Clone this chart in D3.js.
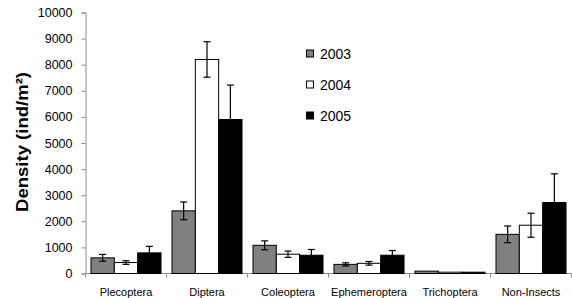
<!DOCTYPE html>
<html><head><meta charset="utf-8">
<script src="https://cdn.jsdelivr.net/npm/d3@7"></script>
<style>body{margin:0;background:#fff}svg{display:block}text{font-family:"Liberation Sans",Arial,sans-serif}</style>
</head><body><svg id="c" width="572" height="298"></svg>
<script>
const categories = ["Plecoptera","Diptera","Coleoptera","Ephemeroptera","Trichoptera","Non-Insects"];
const years = ["2003","2004","2005"];
const values2003 = [600, 2400, 1080, 350, 90, 1500];
const values2004 = [420, 8200, 740, 390, 50, 1850];
const values2005 = [790, 5900, 700, 700, 50, 2720];
const errors2003 = [130, 340, 170, 60, 0, 320];
const errors2004 = [70, 680, 120, 70, 0, 460];
const errors2005 = [250, 1320, 220, 180, 0, 1100];
const yTicks = [0,1000,2000,3000,4000,5000,6000,7000,8000,9000,10000];
const colors = ["#808080","#ffffff","#000000"];

(function(){
const svg = d3.select("#c");
const mLeft = 85.5, mRight = 571.5, mTop = 12.5, mBottom = 273.5;
const x0 = d3.scaleBand().domain(categories).range([mLeft, mRight]).paddingInner(0).paddingOuter(0);
const x1 = d3.scaleBand().domain(years).range([0, x0.bandwidth()]).paddingInner(0).paddingOuter(0.235);
const y = d3.scaleLinear().domain([0, 10000]).range([mBottom, mTop]);

const series = [values2003, values2004, values2005];
const errs = [errors2003, errors2004, errors2005];

// y axis
const yAxis = svg.append("g").attr("transform", `translate(${mLeft},0)`)
  .call(d3.axisLeft(y).tickValues(yTicks).tickSize(4).tickPadding(9).tickFormat(d3.format("d")));
yAxis.selectAll("path,line").attr("stroke", "#8c8c8c");
yAxis.selectAll("text").attr("font-size", "12.5px").attr("fill", "#000").attr("font-family", '"Liberation Sans",Arial,sans-serif');

// x axis
const xAxis = svg.append("g").attr("transform", `translate(0,${mBottom})`);
xAxis.append("line").attr("x1", mLeft).attr("x2", mRight).attr("stroke", "#8c8c8c");
const bounds = categories.map((c) => x0(c) + x0.bandwidth());
xAxis.selectAll("line.tk").data([mLeft].concat(bounds)).enter().append("line")
  .attr("x1", d => d).attr("x2", d => d).attr("y1", 0).attr("y2", 4).attr("stroke", "#8c8c8c");
xAxis.selectAll("text").data(categories).enter().append("text")
  .attr("x", d => x0(d) + x0.bandwidth()/2).attr("y", 22).attr("text-anchor", "middle")
  .attr("font-size", "11px").attr("fill", "#000").text(d => d);

// bars
years.forEach((yr, si) => {
  const g = svg.append("g");
  g.selectAll("rect").data(categories).enter().append("rect")
    .attr("x", c => x0(c) + x1(yr))
    .attr("width", x1.bandwidth())
    .attr("y", (c, i) => y(series[si][i]))
    .attr("height", (c, i) => y(0) - y(series[si][i]))
    .attr("fill", colors[si]).attr("stroke", "#000").attr("stroke-width", 1);
});
// error bars
years.forEach((yr, si) => {
  const g = svg.append("g").attr("stroke", "#000").attr("stroke-width", 1.2);
  categories.forEach((c, i) => {
    const e = errs[si][i];
    if (!e) return;
    const cx = x0(c) + x1(yr) + x1.bandwidth()/2;
    const v = series[si][i];
    g.append("line").attr("x1", cx).attr("x2", cx).attr("y1", y(v + e)).attr("y2", y(v - e));
    g.append("line").attr("x1", cx - 3.5).attr("x2", cx + 3.5).attr("y1", y(v + e)).attr("y2", y(v + e));
    g.append("line").attr("x1", cx - 3.5).attr("x2", cx + 3.5).attr("y1", y(v - e)).attr("y2", y(v - e));
  });
});

// legend
const leg = svg.append("g");
const legY = d3.scalePoint().domain(years).range([54, 116]);
years.forEach((yr, si) => {
  leg.append("rect").attr("x", 306.5).attr("y", legY(yr) - 4).attr("width", 7).attr("height", 7)
    .attr("fill", colors[si]).attr("stroke", "#000").attr("stroke-width", 1);
  leg.append("text").attr("x", 320).attr("y", legY(yr) + 5).attr("font-size", "14px").attr("fill", "#000").text(yr);
});

// y label
svg.append("text").attr("transform", "translate(28,142) rotate(-90)").attr("text-anchor", "middle")
  .attr("font-size", "16px").attr("font-weight", "bold").attr("fill", "#000")
  .attr("textLength", 140).attr("lengthAdjust", "spacingAndGlyphs")
  .text("Density (ind/m²)");
})();
</script></body></html>
